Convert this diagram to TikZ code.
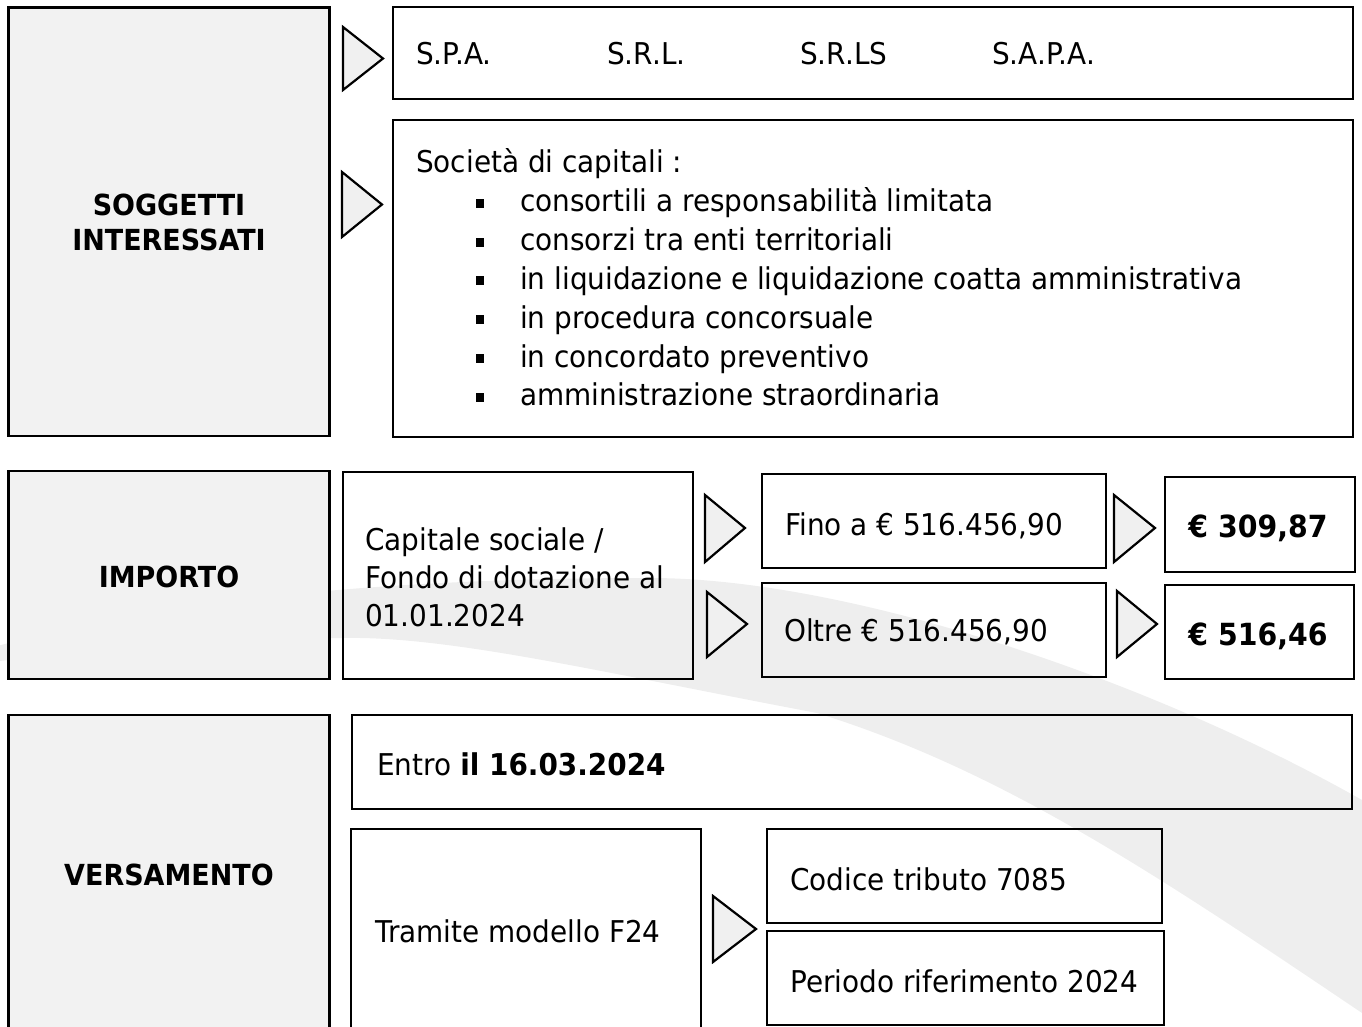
\documentclass[tikz,border=0pt]{standalone}
\usepackage{fontspec}
\setmainfont{DejaVu Sans}[FakeStretch=0.93]
\definecolor{lgray}{HTML}{F2F2F2}
\definecolor{tgray}{HTML}{F0F0F0}
\definecolor{swoosh}{HTML}{EEEEEE}
\begin{document}
\begin{tikzpicture}[x=1pt,y=-1pt,
  box/.style={draw=black, line width=2.5pt, inner sep=0pt},
  lab/.style={box, fill=lgray},
  txt/.style={anchor=base west, inner sep=0pt, font=\fontsize{30}{36}\selectfont},
  btxt/.style={anchor=base, inner sep=0pt, font=\fontsize{29}{35}\selectfont\bfseries},
  etxt/.style={anchor=base, inner sep=0pt, font=\fontsize{30.5}{36}\selectfont\bfseries},
  tri/.style={draw=black, line width=2.2pt, fill=tgray, line join=miter},
  bullet/.style={fill=black, minimum width=8pt, minimum height=9pt, inner sep=0pt},
]
\useasboundingbox (0,0) rectangle (1362,1027);
\begin{scope}
\clip (0,0) rectangle (1362,1027);
\fill[swoosh] (-10,648) .. controls (200,590) and (450,578) .. (650,578)
  .. controls (850,578) and (1150,680) .. (1362,800) -- (1420,835)
  -- (1440,1060) -- (1362,1013)
  .. controls (1150,870) and (1000,770) .. (817,713)
  .. controls (600,672) and (450,636) .. (343,638)
  .. controls (200,640) and (100,650) .. (-10,662) -- cycle;
\end{scope}

% left label boxes
\node[lab, minimum width=321pt, minimum height=428.5pt] (sogg) at (169,221.75) {};
\node[lab, minimum width=321pt, minimum height=208pt] (imp) at (169,575) {};
\node[lab, minimum width=321pt, minimum height=325pt] (vers) at (169,877.5) {};
\node[btxt] (soggA) at (169,215) {SOGGETTI};
\node[btxt] (soggB) at (169,250) {INTERESSATI};
\node[btxt] (impT) at (169,587) {IMPORTO};
\node[btxt] (versT) at (169,885) {VERSAMENTO};

% row 1
\node[box, minimum width=960pt, minimum height=92pt] (forme) at (873,53) {};
\node[txt] (spa) at (416,65) {S.P.A.};
\node[txt] (srl) at (607,65) {S.R.L.};
\node[txt] (srls) at (800,65) {S.R.LS};
\node[txt] (sapa) at (992,65) {S.A.P.A.};

\node[box, minimum width=960pt, minimum height=317pt] (soc) at (873,278.5) {};
\node[txt] (socT) at (416,173) {Società di capitali :};
\foreach \i/\t in {1/consortili a responsabilità limitata,
                   2/consorzi tra enti territoriali,
                   3/in liquidazione e liquidazione coatta amministrativa,
                   4/in procedura concorsuale,
                   5/in concordato preventivo,
                   6/amministrazione straordinaria}{
  \pgfmathsetmacro{\yb}{173+38.8*\i}
  \node[txt] (li\i) at (520,\yb) {\t};
  \node[bullet] (bu\i) at (480,\yb-8.5) {};
}
\draw[tri] (343,27) -- (383,58.5) -- (343,90) -- cycle;
\draw[tri] (342,172) -- (382,204.5) -- (342,237) -- cycle;

% row 2
\node[box, minimum width=350pt, minimum height=207pt] (cap) at (518,575.5) {};
\node[txt] (capA) at (365,550) {Capitale sociale /};
\node[txt] (capB) at (365,588) {Fondo di dotazione al};
\node[txt] (capC) at (365,626) {01.01.2024};
\node[box, minimum width=344pt, minimum height=94pt] (fino) at (934,521) {};
\node[box, minimum width=344pt, minimum height=94pt] (oltre) at (934,630) {};
\node[txt] (finoT) at (785,535) {Fino a € 516.456,90};
\node[txt] (oltreT) at (784,641) {Oltre € 516.456,90};
\node[box, minimum width=190pt, minimum height=95pt] (e309) at (1260,524.5) {};
\node[box, minimum width=189pt, minimum height=94pt] (e516) at (1259.5,632) {};
\node[etxt] (e309T) at (1258,537) {€ 309,87};
\node[etxt] (e516T) at (1258,645) {€ 516,46};
\draw[tri] (705,495) -- (745,528) -- (705,562) -- cycle;
\draw[tri] (707,592) -- (747,624) -- (707,657) -- cycle;
\draw[tri] (1114,495) -- (1155,528) -- (1114,562) -- cycle;
\draw[tri] (1117,591) -- (1157,624) -- (1117,657) -- cycle;

% row 3
\node[box, minimum width=1000pt, minimum height=94pt] (entro) at (852,762) {};
\node[txt] (entroT) at (377,775) {Entro \textbf{il 16.03.2024}};
\node[box, minimum width=350pt, minimum height=211pt] (tram) at (526,934.5) {};
\node[txt] (tramT) at (375,942) {Tramite modello F24};
\node[box, minimum width=395pt, minimum height=94pt] (cod) at (964.5,876) {};
\node[box, minimum width=397pt, minimum height=94pt] (per) at (965.5,978) {};
\node[txt] (codT) at (790,890) {Codice tributo 7085};
\node[txt] (perT) at (790,992) {Periodo riferimento 2024};
\draw[tri] (713,896) -- (756,929) -- (713,962) -- cycle;
\end{tikzpicture}
\end{document}
